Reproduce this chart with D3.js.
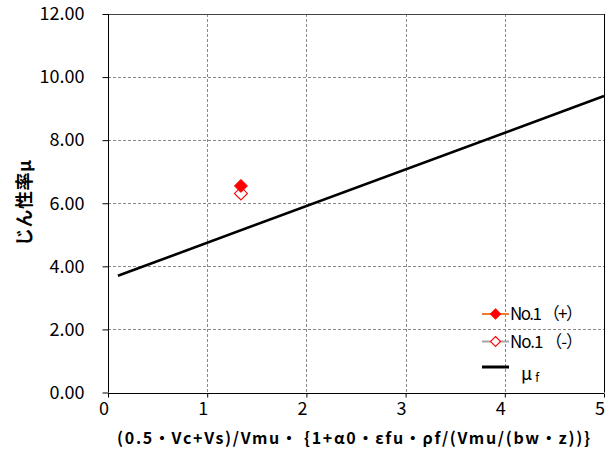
<!DOCTYPE html>
<html>
<head>
<meta charset="utf-8">
<script src="https://cdn.jsdelivr.net/npm/d3@7"></script>
<style>
  html, body { margin: 0; padding: 0; background: #fff; }
  svg { display: block; }
  text { font-family: "Noto Sans CJK JP", sans-serif; fill: #000; }
</style>
</head>
<body>
<svg id="chart" width="609" height="452"></svg>
<script>
// Axis ticks
const xTicks = [0, 1, 2, 3, 4, 5];
const yTicks = [0, 2, 4, 6, 8, 10, 12];

// Test results: No.1 positive / negative loading
const seriesNames = ["No.1 （+）", "No.1 （-）", "μ"];
const plusX = [1.34];
const plusY = [6.55];
const minusX = [1.34];
const minusY = [6.31];

// Design line μf
const muX = [0.1, 5.0];
const muY = [3.70, 9.40];

const xLabel = "(0.5・Vc+Vs)/Vmu・ {1+α0・εfu・ρf/(Vmu/(bw・z))}";
const yLabel = "じん性率μ";

const svg = d3.select("#chart");
const m = { left: 108, right: 5, top: 14, bottom: 59.5 };
const W = 609, H = 452;

const x = d3.scaleLinear().domain([0, 5]).range([m.left, W - m.right]);
const y = d3.scaleLinear().domain([0, 12]).range([H - m.bottom, m.top]);

// dashed grid
const grid = svg.append("g");
grid.selectAll(".gx").data(xTicks.filter(d => d > 0 && d < 5)).join("line")
  .attr("x1", d => Math.round(x(d)) + 0.5).attr("x2", d => Math.round(x(d)) + 0.5)
  .attr("y1", y(12)).attr("y2", y(0))
  .attr("stroke", "#8a8a8a").attr("stroke-width", 1).attr("stroke-dasharray", "3,2");
grid.selectAll(".gy").data(yTicks.filter(d => d > 0 && d < 12)).join("line")
  .attr("x1", x(0)).attr("x2", x(5))
  .attr("y1", d => Math.round(y(d)) + 0.5).attr("y2", d => Math.round(y(d)) + 0.5)
  .attr("stroke", "#8a8a8a").attr("stroke-width", 1).attr("stroke-dasharray", "3,2");

// plot frame (top and right)
svg.append("line").attr("x1", x(0)).attr("x2", x(5)).attr("y1", Math.round(y(12)) + 0.5).attr("y2", Math.round(y(12)) + 0.5)
  .attr("stroke", "#444").attr("stroke-width", 1);
svg.append("line").attr("x1", Math.round(x(5)) + 0.5).attr("x2", Math.round(x(5)) + 0.5).attr("y1", y(12)).attr("y2", y(0))
  .attr("stroke", "#000").attr("stroke-width", 1);

// axes
const xAxis = d3.axisBottom(x).tickValues(xTicks).tickFormat(d3.format("d")).tickSize(4).tickPadding(5);
const yAxis = d3.axisLeft(y).tickValues(yTicks).tickFormat(d3.format(".2f")).tickSize(6).tickPadding(18);

const gx = svg.append("g").attr("transform", `translate(0,${Math.round(y(0)) + 0.5})`).call(xAxis);
gx.select(".domain").attr("d", `M${x(0)},0H${x(5)}`).attr("stroke", "#000");
gx.selectAll(".tick text").attr("font-size", 18).attr("dx", -4.5)
  .attr("font-family", "'Noto Sans CJK JP', sans-serif");

const gy = svg.append("g").attr("transform", `translate(${Math.round(x(0)) + 0.5},0)`).call(yAxis);
gy.select(".domain").attr("d", `M0,${y(12)}V${y(0)}`).attr("stroke", "#000");
gy.selectAll(".tick text").attr("font-size", 18)
  .attr("font-family", "'Noto Sans CJK JP', sans-serif");

// μf design line
const clipId = "plotclip";
svg.append("clipPath").attr("id", clipId).append("rect")
  .attr("x", x(0)).attr("y", y(12)).attr("width", x(5) - x(0) + 1).attr("height", y(0) - y(12));
svg.append("path")
  .datum(muX.map((d, i) => [d, muY[i]]))
  .attr("clip-path", `url(#${clipId})`)
  .attr("d", d3.line().x(d => x(d[0])).y(d => y(d[1])))
  .attr("fill", "none").attr("stroke", "#000").attr("stroke-width", 2.6);

const diamond = s => `M0,${-s}L${s},0L0,${s}L${-s},0Z`;

// negative loading marker (open)
svg.append("g").selectAll("path").data(minusX.map((d, i) => [d, minusY[i]])).join("path")
  .attr("transform", d => `translate(${x(d[0])},${y(d[1])})`)
  .attr("d", diamond(6.5))
  .attr("fill", "#fff").attr("stroke", "#ff0000").attr("stroke-width", 1.1);

// positive loading marker (filled)
svg.append("g").selectAll("path").data(plusX.map((d, i) => [d, plusY[i]])).join("path")
  .attr("transform", d => `translate(${x(d[0])},${y(d[1])})`)
  .attr("d", diamond(6.5))
  .attr("fill", "#ff0000").attr("stroke", "#ff0000").attr("stroke-width", 1);

// legend
const lg = svg.append("g").attr("transform", "translate(482,0)");
const rows = [
  { y: 314, line: "#ed7d31", w: 2, fill: "#ff0000" },
  { y: 341.5, line: "#a5a5a5", w: 2, fill: "#fff" },
  { y: 367, line: "#000", w: 3, fill: null }
];
rows.forEach(r => {
  lg.append("line").attr("x1", 0).attr("x2", 27).attr("y1", r.y).attr("y2", r.y)
    .attr("stroke", r.line).attr("stroke-width", r.w);
  if (r.fill) {
    lg.append("path").attr("transform", `translate(13.5,${r.y})`).attr("d", diamond(5))
      .attr("fill", r.fill).attr("stroke", "#ff0000").attr("stroke-width", 1.1);
  }
});
lg.append("text").attr("x", 28).attr("y", 314).attr("dy", "0.36em").attr("font-size", 17)
  .attr("textLength", 73).attr("lengthAdjust", "spacing").text(seriesNames[0]);
lg.append("text").attr("x", 28).attr("y", 341.5).attr("dy", "0.36em").attr("font-size", 17)
  .attr("textLength", 73).attr("lengthAdjust", "spacing").text(seriesNames[1]);
const mu = lg.append("text").attr("x", 39).attr("y", 380).attr("font-size", 18);
mu.append("tspan").text(seriesNames[2]);
mu.append("tspan").attr("dx", 3).attr("dy", 2).attr("font-size", 12).text("f");

// axis titles
svg.append("text")
  .attr("x", 117).attr("y", 444)
  .attr("font-size", 16).attr("font-weight", "bold")
  .attr("textLength", 473).attr("lengthAdjust", "spacing")
  .text(xLabel);

svg.append("text")
  .attr("transform", `translate(31,${203}) rotate(-90)`)
  .attr("text-anchor", "middle").attr("font-size", 18).attr("font-weight", "bold")
  .attr("textLength", 86).attr("lengthAdjust", "spacing")
  .text(yLabel);
</script>
</body>
</html>
